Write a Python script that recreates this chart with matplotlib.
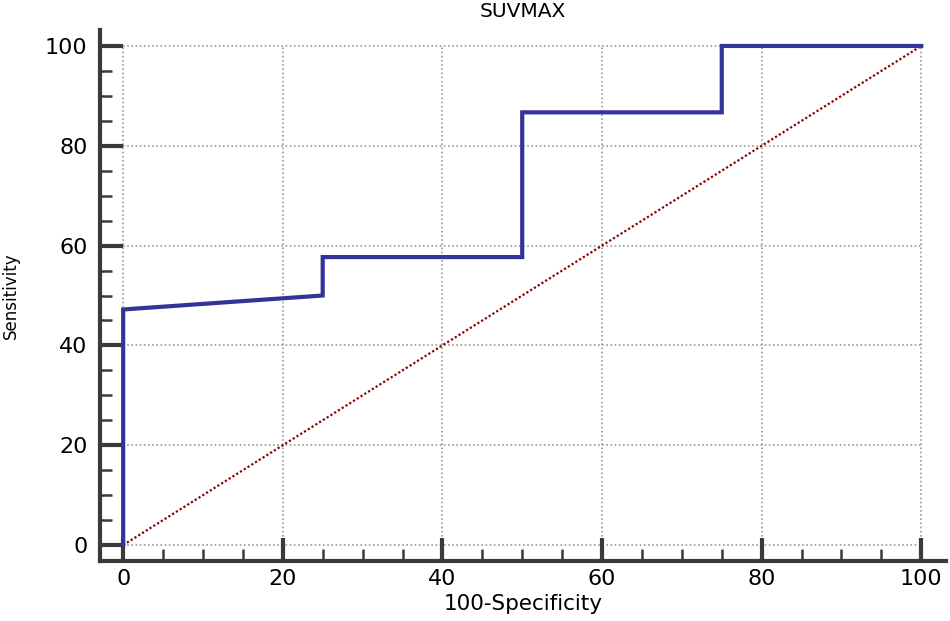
import matplotlib
matplotlib.use("Agg")
import matplotlib.pyplot as plt
from matplotlib.ticker import MultipleLocator

fpr = [0, 0, 25, 25, 50, 50, 75, 75, 100]
tpr = [0, 47.2, 50.0, 57.7, 57.7, 86.7, 86.7, 100, 100]
diag = [0, 100]
ticks = [0, 20, 40, 60, 80, 100]

plt.rcParams['font.family'] = ['DejaVu Sans']
fig = plt.figure(figsize=(9.5, 6.21), dpi=100)
ax = fig.add_axes([0.1053, 0.0966, 0.8905, 0.8551])

for t in ticks:
    ax.plot([0, 100], [t, t], color='#999999', lw=1.2, ls=(0, (1, 1.5)), zorder=1)
    ax.plot([t, t], [0, 100], color='#999999', lw=1.2, ls=(0, (1, 1.5)), zorder=1)

ax.plot(diag, diag, color='#8B0000', lw=1.6, ls=(0, (1, 1)), zorder=2)
ax.plot(fpr, tpr, color='#333399', lw=3.0, zorder=3, solid_joinstyle='miter')

ax.set_xlim(-2.9, 103.1)
ax.set_ylim(-3.2, 103.2)
ax.set_xticks(ticks)
ax.set_yticks(ticks)
ax.xaxis.set_minor_locator(MultipleLocator(5))
ax.yaxis.set_minor_locator(MultipleLocator(5))
for s in ['top', 'right']:
    ax.spines[s].set_visible(False)
for s in ['left', 'bottom']:
    ax.spines[s].set_linewidth(3)
    ax.spines[s].set_color('#3a3a3a')
ax.tick_params(which='major', direction='in', length=16.5, width=3, color='#3a3a3a',
               labelsize=16)
ax.tick_params(which='minor', direction='in', length=8.5, width=1.8, color='#3a3a3a')
ax.tick_params(axis='y', which='major', pad=9)
ax.tick_params(axis='x', which='major', pad=6)

ax.set_title('SUVMAX', fontsize=14.5, pad=9)
ax.set_xlabel('100-Specificity', fontsize=15.5, labelpad=3)
ax.set_ylabel('Sensitivity', fontsize=12, labelpad=18)
fig.savefig('out.png', dpi=100)
